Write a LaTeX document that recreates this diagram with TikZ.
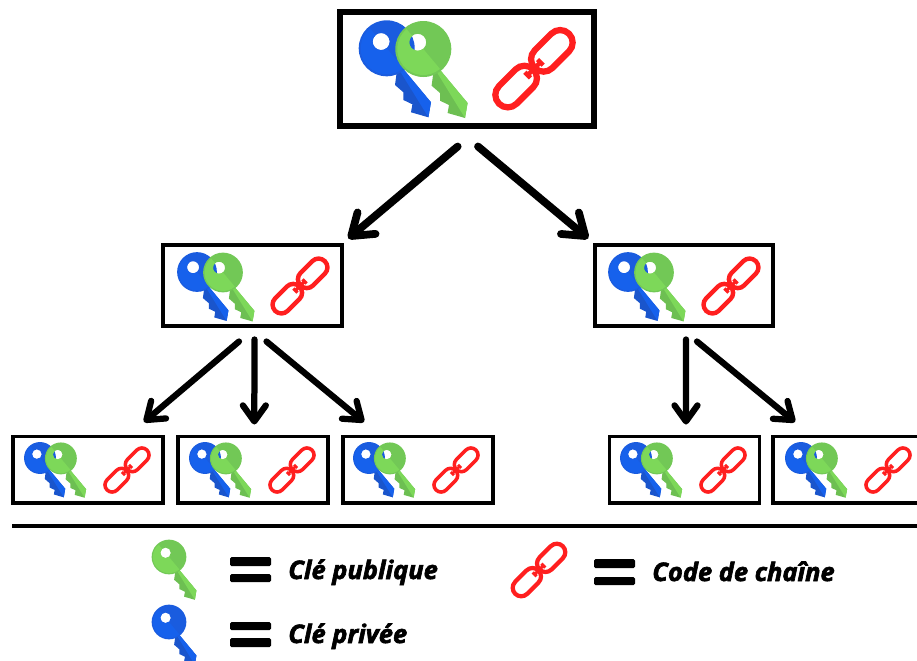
\documentclass[tikz,border=0pt]{standalone}
\usepackage{fontspec}
\setmainfont{Open Sans}[BoldItalicFeatures={FakeBold=2.5}]
\usepackage{tikz}
\usetikzlibrary{arrows.meta}
\definecolor{keyblue}{HTML}{1A5CDF}
\definecolor{keybluelight}{HTML}{1661EC}
\definecolor{keybluedark}{HTML}{1A55CC}
\definecolor{keygreen}{HTML}{72C856}
\definecolor{keygreenlight}{HTML}{7DD859}
\definecolor{keygreendark}{HTML}{6DBF52}
\definecolor{chainred}{HTML}{FF1F1F}
\tikzstyle{rootbox} = [draw, line width=0.12cm, minimum width=5.08cm, minimum height=2.3cm]
\tikzstyle{midbox} = [draw, line width=0.08cm, minimum width=3.58cm, minimum height=1.62cm]
\tikzstyle{leafbox} = [draw, line width=0.07cm, minimum width=3.01cm, minimum height=1.33cm]
\tikzstyle{bigarrow} = [line width=0.155cm, line cap=round, -{Straight Barb[round,length=0.4cm,width=0.56cm]}]
\tikzstyle{smallarrow} = [line width=0.125cm, line cap=round, -{Straight Barb[round,length=0.32cm,width=0.46cm]}]
\tikzstyle{legend} = [anchor=base west, inner sep=0, font=\fontsize{14.5}{17}\selectfont\bfseries\itshape]
\tikzstyle{equalbar} = [fill=black, rounded corners=0.03cm]
% x, y, scale, head, light, shaft
\newcommand{\keyicon}[6]{
	\begin{scope}[shift={(#1,#2)},scale=#3]
		\fill[#6] (16.7,21) -- (44.3,54) -- (41.7,69) -- (24.3,64) -- (25.7,56) -- (16.7,51.7) -- (16.7,44) -- (8.3,36.7) -- (10,24) -- cycle;
		\fill[#5] (17,21) -- (44.3,54) -- (41.7,69) -- (14,24) -- cycle;
		\fill[#4,even odd rule] (0,0) circle (28) (-5.6,-6.7) circle (8.5);
		\fill[#5] (50:26) arc (50:230:26) -- (230:17.2) arc (230:50:8.5) -- cycle;
	\end{scope}
}
\newcommand{\bluekey}[3]{\keyicon{#1}{#2}{#3}{keyblue}{keybluelight}{keybluedark}}
\newcommand{\greenkey}[3]{\keyicon{#1}{#2}{#3}{keygreen}{keygreenlight}{keygreendark}}
% x, y, scale
\newcommand{\chainicon}[3]{
	\begin{scope}[shift={(#1,#2)},scale=#3,rotate=45]
		\draw[chainred,line width=#3*0.125cm,rounded corners=#3*0.25cm] (1,-12.5) rectangle (49.5,12.5);
		\draw[chainred,line width=#3*0.125cm,rounded corners=#3*0.25cm] (-49.5,-12.5) rectangle (-1,12.5);
		\draw[chainred,line width=#3*0.09cm] (-9,0) -- (9,0);
		\draw[chainred,line width=#3*0.09cm] (9,-4) -- (9,4);
		\draw[chainred,line width=#3*0.09cm] (-9,-4) -- (-9,4);
	\end{scope}
}
\newcommand{\keypair}[3]{
	\bluekey{#1}{#2}{#3}
	\greenkey{#1+36.6*#3}{#2+0.7*#3}{#3}
}
\begin{document}
\begin{tikzpicture}[x=0.02cm,y=-0.02cm]
	\useasboundingbox (0,0) rectangle (917,660);
	\node[rootbox] (root) at (467.3,69) {};
	\node[midbox] (midl) at (252.5,285.5) {};
	\node[midbox] (midr) at (684,285.5) {};
	\node[leafbox] (leafa) at (88,469.5) {};
	\node[leafbox] (leafb) at (253,469.5) {};
	\node[leafbox] (leafc) at (418,469.5) {};
	\node[leafbox] (leafd) at (684.5,469.5) {};
	\node[leafbox] (leafe) at (848,469.5) {};
	\keypair{386.7}{48.3}{1}
	\chainicon{534}{68.7}{1}
	\keypair{197}{272}{0.71}
	\chainicon{300}{286}{0.71}
	\keypair{628}{272}{0.71}
	\chainicon{731}{286}{0.71}
	\keypair{40}{458}{0.57}
	\chainicon{127}{470}{0.57}
	\keypair{205}{458}{0.57}
	\chainicon{292}{470}{0.57}
	\keypair{369}{458}{0.57}
	\chainicon{456}{470}{0.57}
	\keypair{636}{458}{0.57}
	\chainicon{723}{470}{0.57}
	\keypair{801}{458}{0.57}
	\chainicon{888}{470}{0.57}
	\draw[bigarrow] ([shift={(-9.6,17)}]root.south) -- ([shift={(4.3,-4.5)}]midl.north east);
	\draw[bigarrow] ([shift={(10.7,17)}]root.south) -- ([shift={(-4.3,-4.5)}]midr.north west);
	\draw[smallarrow] ([shift={(-13.5,13.5)}]midl.south) -- ([shift={(-21,-12.5)}]leafa.north east);
	\draw[smallarrow] ([shift={(2,11.5)}]midl.south) -- ([shift={(1.3,-10)}]leafb.north);
	\draw[smallarrow] ([shift={(14,13.5)}]midl.south) -- ([shift={(-54,-12.5)}]leafc.north);
	\draw[smallarrow] ([shift={(2,11.5)}]midr.south) -- ([shift={(1.5,-10)}]leafd.north);
	\draw[smallarrow] ([shift={(13,13.5)}]midr.south) -- ([shift={(-53,-12.5)}]leafe.north);
	\draw[line width=0.08cm] (12,526) -- (917,526);
	\greenkey{169}{557}{0.62}
	\bluekey{169}{622}{0.62}
	\chainicon{539}{570}{0.68}
	\fill[equalbar] (230,557) rectangle (271,566);
	\fill[equalbar] (230,574) rectangle (271,582);
	\fill[equalbar] (230,622) rectangle (271,630);
	\fill[equalbar] (230,638) rectangle (271,647);
	\fill[equalbar] (594,559) rectangle (635,568);
	\fill[equalbar] (594,577) rectangle (635,585);
	\node[legend] (publique) at (288,579) {Clé publique};
	\node[legend] (privee) at (288,643) {Clé privée};
	\node[legend] (chaine) at (652,581) {Code de chaîne};
\end{tikzpicture}
\end{document}
